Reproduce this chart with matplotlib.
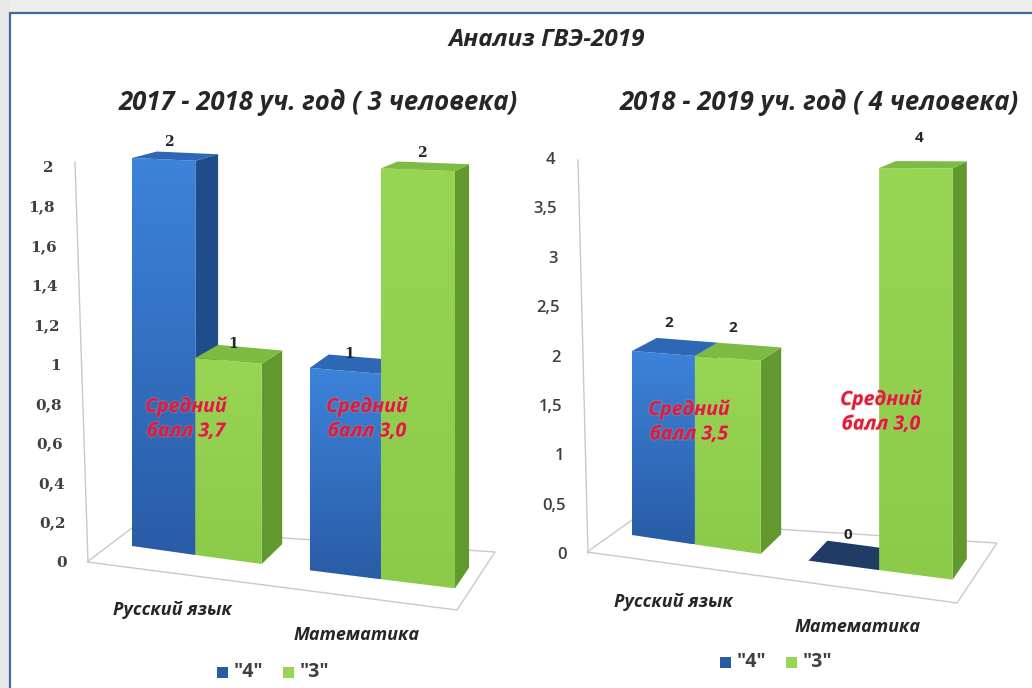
import numpy as np
import matplotlib
matplotlib.use("Agg")
import matplotlib.pyplot as plt
from matplotlib.patches import Polygon, Rectangle
from matplotlib.colors import LinearSegmentedColormap
import matplotlib.patheffects as pe

# ---------------- data ----------------
main_title = "Анализ ГВЭ-2019"
categories = ["Русский язык", "Математика"]
series_names = ['"4"', '"3"']

left_title = "2017 - 2018 уч. год ( 3 человека)"
left_four = [2, 1]
left_three = [1, 2]
left_ticks = [0, 0.2, 0.4, 0.6, 0.8, 1.0, 1.2, 1.4, 1.6, 1.8, 2.0]
left_tick_labels = ["0", "0,2", "0,4", "0,6", "0,8", "1", "1,2", "1,4", "1,6", "1,8", "2"]
left_avg = ["Средний\nбалл 3,7", "Средний\nбалл 3,0"]

right_title = "2018 - 2019 уч. год ( 4 человека)"
right_four = [2, 0]
right_three = [2, 4]
right_ticks = [0, 0.5, 1.0, 1.5, 2.0, 2.5, 3.0, 3.5, 4.0]
right_tick_labels = ["0", "0,5", "1", "1,5", "2", "2,5", "3", "3,5", "4"]
right_avg = ["Средний\nбалл 3,5", "Средний\nбалл 3,0"]

# ---------------- style ----------------
SANS = ["Open Sans", "DejaVu Sans"]
SERIF = ["DejaVu Serif"]
BLUE = dict(top="#3C83DA", bottom="#2A5CA6", side="#1F4C8A", cap="#2E67B5", flat="#1F3B66")
GREEN = dict(top="#97D553", bottom="#8CCB4A", side="#61992F", cap="#7DBB42", flat="#5E962E")
TEXT = "#262626"
AVG_RED = "#DC1A48"

W, H = 1032, 688
fig = plt.figure(figsize=(W / 100, H / 100), dpi=100)
ax = fig.add_axes([0, 0, 1, 1])
ax.set_xlim(0, W)
ax.set_ylim(H, 0)
ax.axis("off")


class Scene:
    """Pseudo-perspective projection of a 3D column chart onto the canvas."""

    def __init__(self, x0, slot, bow, base0, base_slope, unit_h, h_growth, vp, depth):
        self.x0, self.slot, self.bow = x0, slot, bow
        self.base0, self.base_slope = base0, base_slope
        self.unit_h, self.h_growth = unit_h, h_growth
        self.vp, self.depth = vp, depth

    def front(self, u, v):
        x = self.x0 + self.slot * u + self.bow * u * u
        y = self.base0 + self.base_slope * u - v * self.unit_h * (1 + self.h_growth * u)
        return (x, y)

    def back(self, u, v, frac=1.0):
        x, y = self.front(u, v)
        k = self.depth * frac
        return (x + (self.vp[0] - x) * k, y + (self.vp[1] - y) * k)


def gradient_fill(pts, c_top, c_bot, z):
    poly = Polygon(pts, closed=True, facecolor="none", edgecolor="none", zorder=z)
    ax.add_patch(poly)
    xs = [p[0] for p in pts]
    ys = [p[1] for p in pts]
    cmap = LinearSegmentedColormap.from_list("bar", [c_top, c_bot])
    grad = np.linspace(0, 1, 256).reshape(-1, 1)
    im = ax.imshow(grad, cmap=cmap, extent=[min(xs), max(xs), max(ys), min(ys)],
                   aspect="auto", interpolation="bilinear", zorder=z)
    im.set_clip_path(poly)


def draw_bar(scene, a, b, v, pal, z):
    f0, f1 = scene.front(a, 0), scene.front(b, 0)
    t0, t1 = scene.front(a, v), scene.front(b, v)
    bt0, bt1 = scene.back(a, v), scene.back(b, v)
    bb1 = scene.back(b, 0)
    if v > 0:
        ax.add_patch(Polygon([f1, bb1, bt1, t1], closed=True, facecolor=pal["side"],
                             edgecolor="none", zorder=z))
        gradient_fill([f0, f1, t1, t0], pal["top"], pal["bottom"], z + 0.1)
        ax.add_patch(Polygon([t0, t1, bt1, bt0], closed=True, facecolor=pal["cap"],
                             edgecolor="none", zorder=z + 0.2))
    else:
        ax.add_patch(Polygon([t0, t1, bt1, bt0], closed=True, facecolor=pal["flat"],
                             edgecolor="none", zorder=z + 0.2))


def draw_chart(scene, fours, threes, floor, axis_line, tick_map, ticks, tick_labels,
               tick_font, tick_size, tick_weight, label_font, label_size, label_lift,
               avg_texts, avg_pos, title, title_pos, cat_pos, legend_pos):
    # floor
    ax.add_patch(Polygon(floor, closed=True, facecolor="white", edgecolor="#C9C9C9",
                         lw=1.0, zorder=1))
    # value axis
    (ax0, ay0), (ax1, ay1) = axis_line
    ax.plot([ax0, ax1], [ay0, ay1], color="#C9C9C9", lw=1.0, zorder=1.5)
    vmax = ticks[-1]
    y0, py_per_unit, xr0, xr_shift = tick_map
    for t, lab in zip(ticks, tick_labels):
        ax.text(xr0 - xr_shift * t / vmax, y0 - t * py_per_unit, lab, ha="right",
                va="center", fontsize=tick_size, family=tick_font, fontweight=tick_weight,
                color="#404040", zorder=5)

    # bars: cluster slots along the category axis
    gap = 2.7
    z = 2
    for i, (v4, v3) in enumerate(zip(fours, threes)):
        a = i * gap
        for j, (v, pal) in enumerate([(v4, BLUE), (v3, GREEN)]):
            lo, hi = a + j, a + j + 1
            draw_bar(scene, lo, hi, v, pal, z)
            mid = (lo + hi) / 2
            fx, fy = scene.front(mid, v)
            bx, by = scene.back(mid, v, 0.25)
            ax.text(bx, fy - label_lift, str(v), ha="center", va="center",
                    fontsize=label_size, family=label_font, fontweight="bold",
                    color=TEXT, zorder=20)
            z += 1

    # average-score notes
    for txt, (x, y) in zip(avg_texts, avg_pos):
        ax.text(x, y, txt, ha="center", va="center", fontsize=14, family=SANS,
                fontweight="bold", fontstyle="italic", color=AVG_RED,
                linespacing=1.3, zorder=30,
                path_effects=[pe.withStroke(linewidth=1.6, foreground="#F2A65A", alpha=0.25)])

    # subtitle
    ax.text(title_pos[0], title_pos[1], title, ha="center", va="center", fontsize=18.5,
            family=SANS, fontweight="bold", fontstyle="italic", color=TEXT, zorder=30)

    # category labels
    for name, (x, y) in zip(categories, cat_pos):
        ax.text(x, y, name, ha="center", va="center", fontsize=13, family=SANS,
                fontweight="bold", fontstyle="italic", color=TEXT, zorder=30)

    # legend
    lx, ly = legend_pos
    for k, (name, pal) in enumerate(zip(series_names, [BLUE, GREEN])):
        sx = lx + k * 66
        ax.add_patch(Rectangle((sx, ly - 5.5), 11, 11, facecolor=pal["bottom"] if k == 0 else pal["top"],
                               edgecolor="none", zorder=30))
        ax.text(sx + 17, ly, name, ha="left", va="center", fontsize=14, family=SANS,
                fontweight="bold", color="#404040", zorder=30)


# ---------------- page frame ----------------
ax.add_patch(Rectangle((0, 0), W, 13, facecolor="#EEEEEE", edgecolor="none", zorder=0))
ax.add_patch(Rectangle((0, 0), 10, H, facecolor="#E9E9E9", edgecolor="none", zorder=0))
ax.plot([10, 10, W], [H, 13, 13], color="#3F6C9E", lw=1.6, zorder=40, solid_joinstyle="miter")

ax.text(547, 40, main_title, ha="center", va="center", fontsize=17.5, family=SANS,
        fontweight="bold", fontstyle="italic", color=TEXT, zorder=30)

left_scene = Scene(x0=132, slot=62, bow=1.43, base0=546, base_slope=9.0,
                   unit_h=194, h_growth=0.016, vp=(882, -38), depth=0.033)
right_scene = Scene(x0=632, slot=61.5, bow=1.43, base0=535, base_slope=9.5,
                    unit_h=92, h_growth=0.025, vp=(1382, -45), depth=0.033)

draw_chart(left_scene, left_four, left_three,
           floor=[(87, 562), (457, 610), (495, 552), (132, 528)],
           axis_line=[(88, 562), (75, 162)],
           tick_map=(563, 197.5, 67, 13), ticks=left_ticks, tick_labels=left_tick_labels,
           tick_font=SERIF, tick_size=11, tick_weight="bold",
           label_font=SERIF, label_size=10, label_lift=17,
           avg_texts=left_avg, avg_pos=[(186, 419), (367, 419)],
           title=left_title, title_pos=(318, 102),
           cat_pos=[(172, 610), (357, 635)], legend_pos=(217, 672))

draw_chart(right_scene, right_four, right_three,
           floor=[(587, 552), (957, 603), (997, 543), (632, 520)],
           axis_line=[(588, 553), (578, 160)],
           tick_map=(555, 98.75, 567, 12), ticks=right_ticks, tick_labels=right_tick_labels,
           tick_font=SANS, tick_size=12, tick_weight="semibold",
           label_font=SANS, label_size=11, label_lift=30,
           avg_texts=right_avg, avg_pos=[(689, 422), (881, 412)],
           title=right_title, title_pos=(819, 102),
           cat_pos=[(673, 602), (858, 627)], legend_pos=(720, 662))

ax.set_xlim(0, W)
ax.set_ylim(H, 0)
fig.savefig("out.png", dpi=100)
